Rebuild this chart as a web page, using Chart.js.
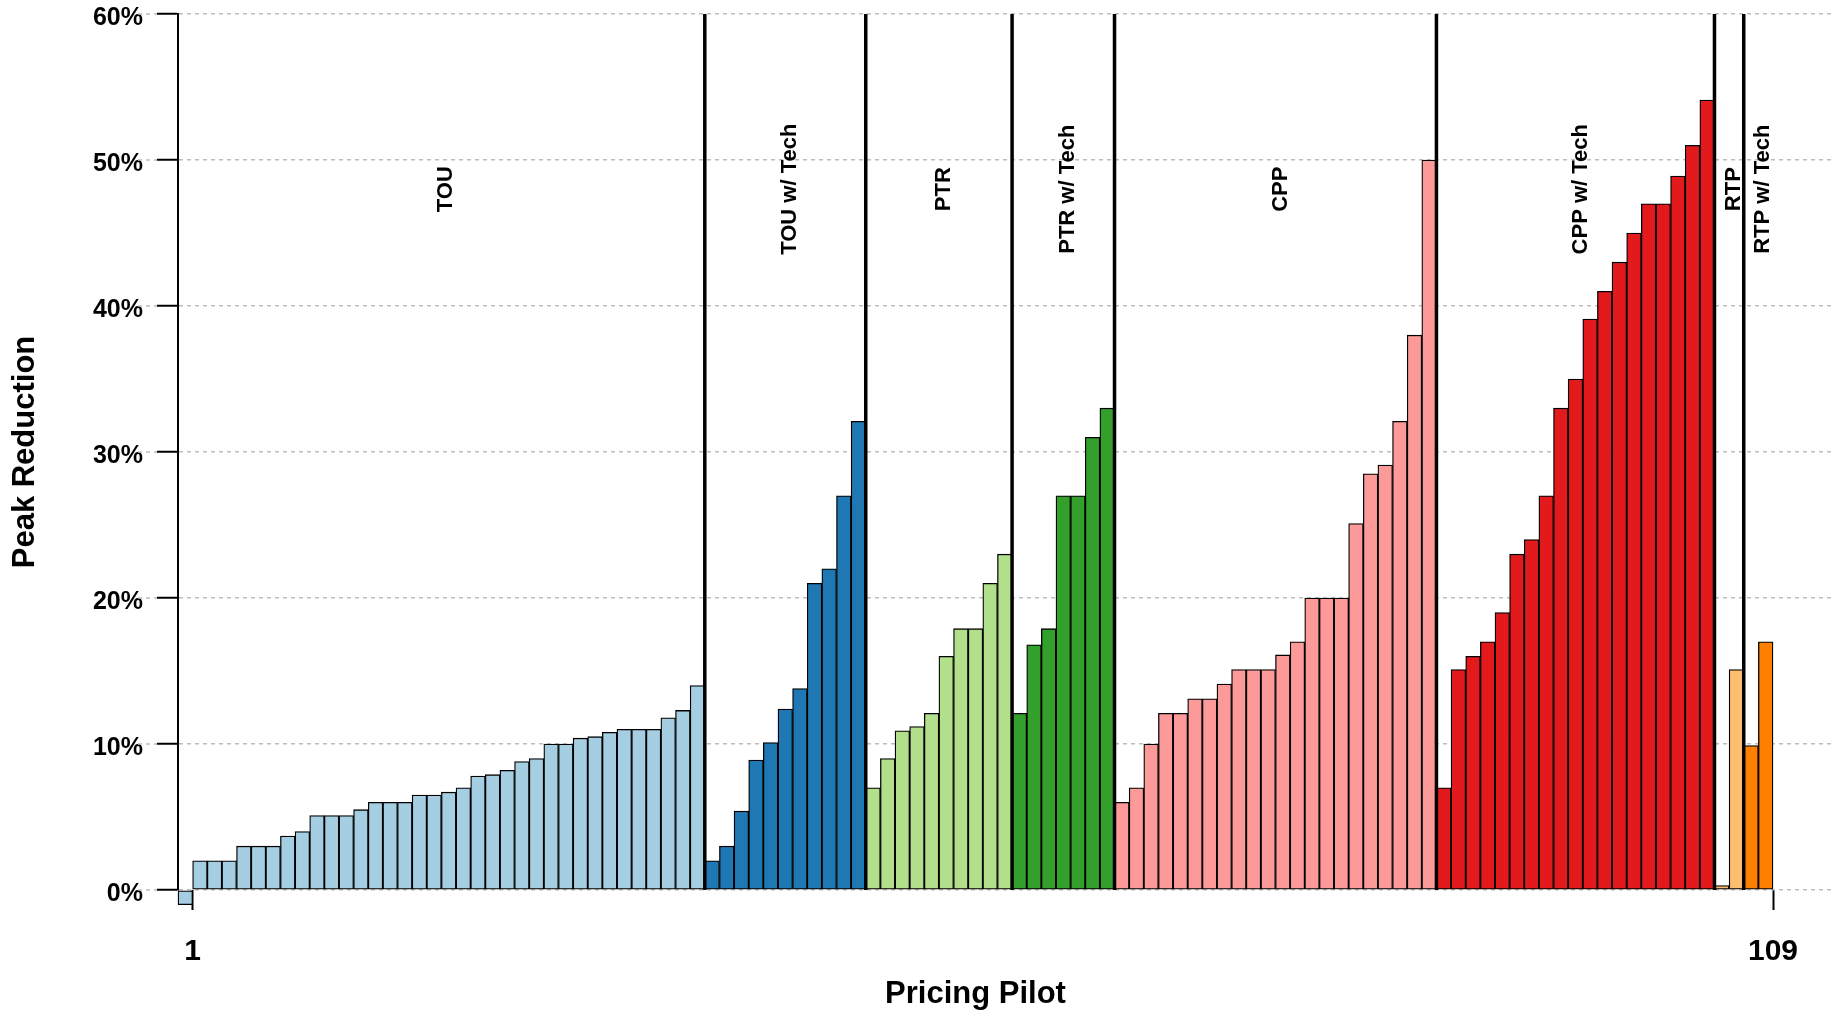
<!DOCTYPE html>
<html><head><meta charset="utf-8">
<script src="https://cdn.jsdelivr.net/npm/chart.js@4.4.0/dist/chart.umd.min.js"></script>
<style>html,body{margin:0;padding:0;background:#fff;} #wrap{width:1833px;height:1010px;position:relative;}</style>
</head><body><div id="wrap"><canvas id="c"></canvas></div>
<script>
// ---- data ----
const groupNames = ['TOU', 'TOU w/ Tech', 'PTR', 'PTR w/ Tech', 'CPP', 'CPP w/ Tech', 'RTP', 'RTP w/ Tech'];
const groupColors = ['#a6cee3', '#1f78b4', '#b2df8a', '#33a02c', '#fb9a99', '#e31a1c', '#fdbf6f', '#ff7f00'];
const tou = [-1.0, 2.0, 2.0, 2.0, 3.0, 3.0, 3.0, 3.7, 4.0, 5.1, 5.1, 5.1, 5.5, 6.0, 6.0, 6.0, 6.5, 6.5, 6.7, 7.0, 7.8, 7.9, 8.2, 8.8, 9.0, 10.0, 10.0, 10.4, 10.5, 10.8, 11.0, 11.0, 11.0, 11.8, 12.3, 14.0];
const touTech = [2.0, 3.0, 5.4, 8.9, 10.1, 12.4, 13.8, 21.0, 22.0, 27.0, 32.1];
const ptr = [7.0, 9.0, 10.9, 11.2, 12.1, 16.0, 17.9, 17.9, 21.0, 23.0];
const ptrTech = [12.1, 16.8, 17.9, 27.0, 27.0, 31.0, 33.0];
const cpp = [6.0, 7.0, 10.0, 12.1, 12.1, 13.1, 13.1, 14.1, 15.1, 15.1, 15.1, 16.1, 17.0, 20.0, 20.0, 20.0, 25.1, 28.5, 29.1, 32.1, 38.0, 50.0];
const cppTech = [7.0, 15.1, 16.0, 17.0, 19.0, 23.0, 24.0, 27.0, 33.0, 35.0, 39.1, 41.0, 43.0, 45.0, 47.0, 47.0, 48.9, 51.0, 54.1];
const rtp = [0.3, 15.1];
const rtpTech = [9.9, 17.0];
const xTickValues = [1, 109];
const yTickValues = [0, 10, 20, 30, 40, 50, 60];
const xTitle = 'Pricing Pilot';
const yTitle = 'Peak Reduction';

// ---- derived ----
const groups = [tou, touTech, ptr, ptrTech, cpp, cppTech, rtp, rtpTech];
const values = groups.flat();
const barColors = groups.flatMap((g, gi) => g.map(() => groupColors[gi]));
const bounds = [];
let acc = 0;
groups.forEach(g => { bounds.push([acc, acc + g.length]); acc += g.length; });

const FAM = '"Liberation Sans", Arial, Helvetica, sans-serif';

const annot = {
  id: 'annot',
  afterDraw(chart, args, opts) {
    const { ctx, chartArea, scales: { x, y } } = chart;
    ctx.save();
    // grid extension left of tick marks
    ctx.strokeStyle = '#bdbdbd'; ctx.lineWidth = 1.5; ctx.setLineDash([4, 4]);
    y.ticks.forEach(t => {
      const py = y.getPixelForValue(t.value);
      ctx.beginPath(); ctx.moveTo(chartArea.left - 40, py); ctx.lineTo(chartArea.left - 21, py); ctx.stroke();
    });
    // group separators
    ctx.setLineDash([]); ctx.strokeStyle = '#000'; ctx.lineWidth = 3.5;
    const y0 = y.getPixelForValue(0);
    bounds.slice(0, -1).forEach(([s, e]) => {
      const px = x.getPixelForValue(e);
      ctx.beginPath(); ctx.moveTo(px, chartArea.top); ctx.lineTo(px, y0); ctx.stroke();
    });
    // group labels
    ctx.fillStyle = '#000';
    ctx.font = 'bold 22px ' + FAM;
    ctx.textAlign = 'center'; ctx.textBaseline = 'middle';
    const ly = y.getPixelForValue(opts.labelValue);
    bounds.forEach(([s, e], i) => {
      const px = x.getPixelForValue((s + e) / 2);
      ctx.save(); ctx.translate(px + 5, ly); ctx.rotate(-Math.PI / 2);
      ctx.fillText(groupNames[i], 0, 0);
      ctx.restore();
    });
    // x axis title, centred on the full pilot range
    ctx.font = 'bold 31px ' + FAM;
    ctx.fillText(xTitle, x.getPixelForValue(acc / 2), chart.height - 15.5);
    ctx.restore();
  }
};

new Chart(document.getElementById('c'), {
  type: 'bar',
  data: {
    datasets: [{
      data: values.map((v, i) => ({ x: i + 0.5, y: v })),
      backgroundColor: barColors,
      borderColor: '#000',
      borderWidth: 1.3,
      borderSkipped: false,
      barPercentage: 1,
      categoryPercentage: 1,
      clip: false
    }]
  },
  options: {
    responsive: true, maintainAspectRatio: false, animation: false, devicePixelRatio: 1,
    layout: { padding: { top: 0, right: 0, bottom: 0, left: 0 } },
    plugins: { legend: { display: false }, tooltip: { enabled: false }, annot: { labelValue: 48 } },
    scales: {
      x: {
        type: 'linear', min: 0, max: 113.1, offset: false,
        afterBuildTicks: s => { s.ticks = xTickValues.map(v => ({ value: v })); },
        afterFit: s => { s.height = 120; },
        grid: { offset: false, drawOnChartArea: false, drawTicks: true, tickLength: 20, tickColor: '#000', tickWidth: 2, tickBorderDash: [] },
        border: { display: false },
        ticks: { autoSkip: false, maxRotation: 0, padding: 24, color: '#000', font: { family: FAM, size: 30, weight: 'bold' }, callback: v => String(v) },
        title: { display: false }
      },
      y: {
        min: 0, max: 60, z: 1,
        afterBuildTicks: s => { s.ticks = yTickValues.map(v => ({ value: v })); },
        afterFit: s => { s.width = 178; s.paddingTop = 14; s.paddingBottom = 0; },
        grid: { color: '#bdbdbd', lineWidth: 1.5, drawTicks: true, tickLength: 21, tickColor: '#000', tickWidth: 2, tickBorderDash: [] },
        border: { display: true, color: '#000', width: 2, dash: [4, 4] },
        ticks: { padding: 14, labelOffset: 4, color: '#000', font: { family: FAM, size: 25, weight: 'bold' }, callback: v => v + '%' },
        title: { display: true, text: yTitle, color: '#000', font: { family: FAM, size: 31, weight: 'bold', lineHeight: 1 }, padding: { top: 10, bottom: 0 } }
      }
    }
  },
  plugins: [annot]
});
</script>
</body></html>
